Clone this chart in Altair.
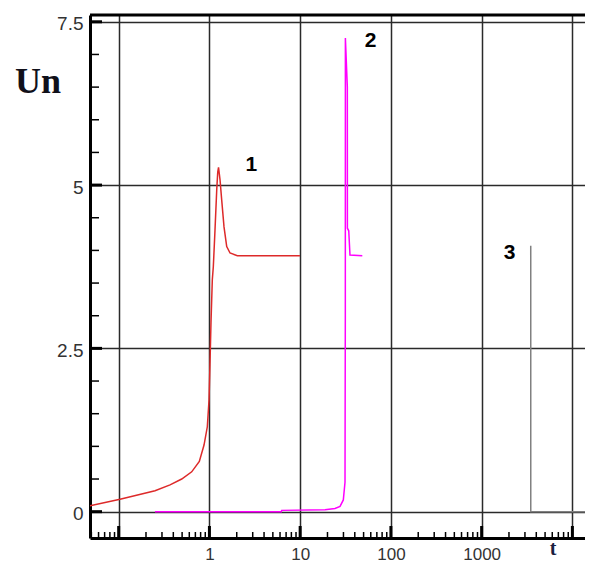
import altair as alt
import pandas as pd

# ---- data ----
c1_t = [0.0483, 0.1035, 0.2515, 0.368, 0.495, 0.638, 0.774, 0.872, 0.948, 0.99, 1.015, 1.041,
        1.076, 1.104, 1.152, 1.204, 1.235, 1.26, 1.309, 1.366, 1.448, 1.551, 1.687, 2.03, 9.95]
c1_y = [0.09, 0.19, 0.32, 0.41, 0.50, 0.61, 0.77, 1.02, 1.30, 1.71, 2.28, 2.90,
        3.55, 3.75, 4.31, 4.93, 5.20, 5.27, 5.08, 4.77, 4.36, 4.06, 3.96, 3.92, 3.92]

c2_t = [0.251, 6.2, 6.26, 18.8, 24.2, 27.5, 29.9, 31.2, 31.45, 31.5, 33.1, 33.15, 34.3, 35.4, 48.4]
c2_y = [0.0, 0.0, 0.02, 0.03, 0.05, 0.08, 0.18, 0.45, 3.0, 7.25, 6.5, 4.34, 4.30, 3.93, 3.92]

c3_t = [3475, 3476, 3478, 20000]
c3_y = [4.07, 3.92, 0.0, 0.0]

series_names = ["1", "2", "3"]
series_colors = ["#dd2a2a", "#ff00ff", "#808080"]

label_text = ["1", "2", "3"]
label_t = [2.896, 59.6, 2029]
label_y = [5.30, 7.206, 3.964]

x_grid = [0.1, 1, 10, 100, 1000, 10000]
y_grid = [0, 2.5, 5, 7.5]
y_minor = [0.5, 1.0, 1.5, 2.0, 3.0, 3.5, 4.0, 4.5, 5.5, 6.0, 6.5, 7.0]
x_minor = [m * d for d in [0.01, 0.1, 1, 10, 100, 1000] for m in range(2, 10)]

W, H = 495, 523
XMIN, XMAX = 0.0483, 13770
YMIN, YMAX = -0.403, 7.604
x_minor = [v for v in x_minor if XMIN < v < XMAX]

rows = []
for name, ts, yv in zip(series_names, [c1_t, c2_t, c3_t], [c1_y, c2_y, c3_y]):
    for i, (a, b) in enumerate(zip(ts, yv)):
        rows.append({"t": a, "y": b, "series": name, "i": i})
curves = pd.DataFrame(rows)

FONT = "Liberation Sans"

xs = alt.Scale(type="log", domain=[XMIN, XMAX], nice=False)
ys = alt.Scale(domain=[YMIN, YMAX], nice=False, zero=False)

XS = alt.X("t:Q", scale=xs, axis=alt.Axis(
    values=x_grid, title=None, grid=True, gridColor="#2a2a2a", gridWidth=1.5,
    ticks=False, domainColor="black", domainWidth=3, format="~g",
    labelExpr="datum.value > 0.5 && datum.value < 5000 ? datum.label : ''",
    labelFont=FONT, labelFontSize=17, labelColor="#333333", labelPadding=8,
    labelOverlap=False, labelFlush=False))
YS = alt.Y("y:Q", scale=ys, axis=alt.Axis(
    values=y_grid, title=None, grid=True, gridColor="#2a2a2a", gridWidth=1.5,
    ticks=False, domainColor="black", domainWidth=3, format=".1~f",
    labelFont=FONT, labelFontSize=19, labelColor="#333333", labelPadding=7,
    labelOffset=2))

lines = alt.Chart(curves).mark_line(strokeWidth=1.5, clip=True).encode(
    x=XS, y=YS,
    color=alt.Color("series:N", scale=alt.Scale(domain=series_names, range=series_colors), legend=None),
    order="i:Q",
)

xminor = alt.Chart(pd.DataFrame({"t": x_minor})).mark_rule(color="black", strokeWidth=1.5).encode(
    x=XS, y=alt.value(H), y2=alt.value(H - 6))
xmajor = alt.Chart(pd.DataFrame({"t": x_grid})).mark_rule(color="black", strokeWidth=3).encode(
    x=XS, y=alt.value(H), y2=alt.value(H - 12))
yminor = alt.Chart(pd.DataFrame({"y": y_minor})).mark_rule(color="black", strokeWidth=1.5).encode(
    y=YS, x=alt.value(0), x2=alt.value(9))
ymajor = alt.Chart(pd.DataFrame({"y": y_grid})).mark_rule(color="black", strokeWidth=3).encode(
    y=YS, x=alt.value(0), x2=alt.value(12))
topline = alt.Chart(pd.DataFrame({"a": [0]})).mark_rule(color="black", strokeWidth=3).encode(
    x=alt.value(0), x2=alt.value(W), y=alt.value(0))

labels = alt.Chart(pd.DataFrame({"t": label_t, "y": label_y, "lab": label_text})).mark_text(
    font=FONT, fontSize=21, fontWeight="bold", color="black", baseline="middle", align="center"
).encode(x=XS, y=YS, text="lab:N")

un = alt.Chart(pd.DataFrame({"lab": ["Un"]})).mark_text(
    font="Liberation Serif", fontSize=36, fontWeight="bold", color="#10101a",
    baseline="alphabetic", align="center"
).encode(x=alt.value(-52), y=alt.value(78), text="lab:N")

tlab = alt.Chart(pd.DataFrame({"lab": ["t"]})).mark_text(
    font="Liberation Serif", fontSize=20, fontWeight="bold", color="#1a2040",
    baseline="alphabetic", align="center"
).encode(x=alt.value(463), y=alt.value(540), text="lab:N")

chart = alt.layer(lines, xminor, xmajor, yminor, ymajor, topline, labels, un, tlab).properties(
    width=W, height=H,
    padding={"left": 82, "top": 7, "right": 0, "bottom": 24},
    autosize=alt.AutoSizeParams(type="none"),
).configure_view(stroke=None).configure(background="white")

chart.save("out.html", embed_options={"renderer": "svg", "actions": False})
